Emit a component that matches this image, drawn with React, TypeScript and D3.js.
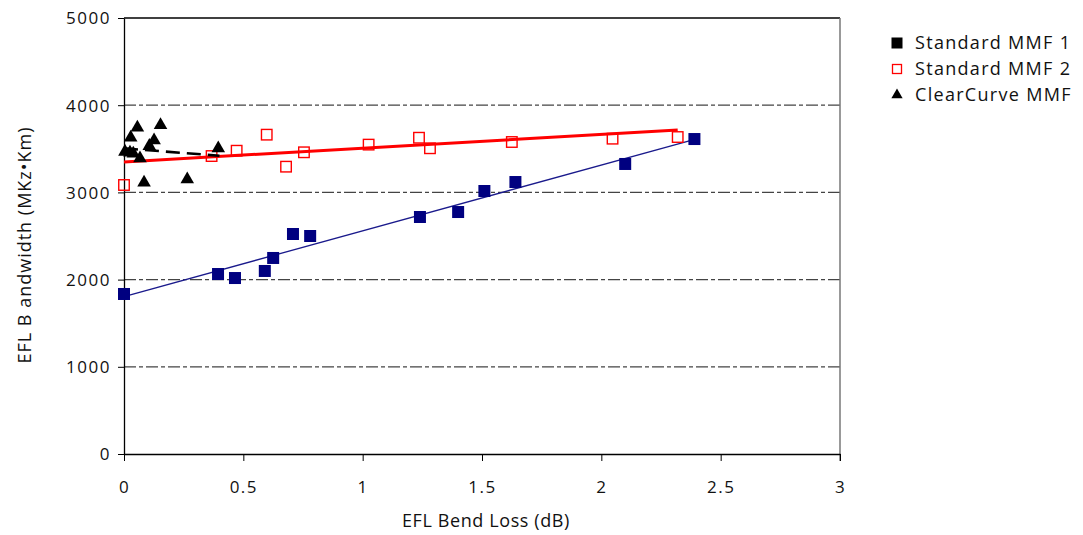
import * as d3 from "d3";
import React, { useEffect, useRef } from "react";

// Standard MMF 1 (filled navy squares)
const mmf1X = [0, 0.394, 0.465, 0.59, 0.625, 0.708, 0.78, 1.24, 1.40, 1.51, 1.64, 2.10, 2.39];
const mmf1Y = [1835, 2064, 2018, 2099, 2248, 2523, 2500, 2718, 2775, 3016, 3119, 3326, 3612];

// Standard MMF 2 (open red squares)
const mmf2X = [0, 0.367, 0.472, 0.598, 0.679, 0.754, 1.025, 1.236, 1.282, 1.625, 2.047, 2.32];
const mmf2Y = [3085, 3417, 3478, 3662, 3295, 3460, 3548, 3627, 3506, 3578, 3616, 3635];

// ClearCurve MMF (black triangles)
const ccX = [0.004, 0.025, 0.039, 0.028, 0.056, 0.067, 0.084, 0.106, 0.126, 0.153, 0.265, 0.395];
const ccY = [3478, 3467, 3456, 3639, 3754, 3403, 3123, 3544, 3609, 3784, 3162, 3517];

// trend lines: [x0, y0, x1, y1]
const mmf1Trend = [0, 1805, 2.38, 3600];
const mmf2Trend = [0, 3350, 2.32, 3715];
const ccTrend = [0, 3505, 0.4, 3420];

const xTicks = [0, 0.5, 1, 1.5, 2, 2.5, 3];
const xTickLabels = ["0", "0.5", "1", "1.5", "2", "2.5", "3"];
const yTicks = [0, 1000, 2000, 3000, 4000, 5000];
const gridValues = [1000, 2000, 3000, 4000];
const legendNames = ["Standard MMF 1", "Standard MMF 2", "ClearCurve MMF"];

const FONT = "'Open Sans', 'DejaVu Sans', sans-serif";

export default function App() {
  const ref = useRef<SVGSVGElement | null>(null);

  useEffect(() => {
    if (!ref.current) return;
    const width = 1083;
    const height = 535;
    const svg = d3.select(ref.current);
    svg.selectAll("*").remove();

    const x = d3.scaleLinear().domain([0, 3]).range([124, 840]);
    const y = d3.scaleLinear().domain([0, 5000]).range([454, 18]);

    svg.append("rect").attr("width", width).attr("height", height).attr("fill", "#fff");

    // grid lines (dash-dot)
    svg.append("g")
      .selectAll("line")
      .data(gridValues)
      .join("line")
      .attr("x1", x(0))
      .attr("x2", x(3))
      .attr("y1", d => y(d))
      .attr("y2", d => y(d))
      .attr("stroke", "#444")
      .attr("stroke-width", 1.3)
      .attr("stroke-dasharray", "12,3,4,3");

    // frame top / right
    svg.append("line")
      .attr("x1", x(0)).attr("x2", x(3))
      .attr("y1", y(5000)).attr("y2", y(5000))
      .attr("stroke", "#000").attr("stroke-width", 1.3);
    svg.append("line")
      .attr("x1", x(3)).attr("x2", x(3))
      .attr("y1", y(5000)).attr("y2", y(0) + 7)
      .attr("stroke", "#777").attr("stroke-width", 1.5);

    // x axis
    const xAxis = svg.append("g")
      .attr("transform", `translate(0,${y(0)})`)
      .call(d3.axisBottom(x).tickValues(xTicks).tickSize(7).tickSizeOuter(0)
        .tickFormat((_, i) => xTickLabels[i]));
    xAxis.select(".domain").attr("stroke", "#000").attr("stroke-width", 1.3);
    xAxis.selectAll(".tick line").attr("stroke", "#000");
    xAxis.selectAll(".tick text")
      .attr("dy", 0).attr("y", 39)
      .style("font-family", FONT).style("font-size", "17px").style("letter-spacing", "1.5px")
      .attr("fill", "#111");

    // y axis
    const yAxis = svg.append("g")
      .attr("transform", `translate(${x(0)},0)`)
      .call(d3.axisLeft(y).tickValues(yTicks).tickSize(6).tickSizeOuter(0).tickFormat(d3.format("d")));
    yAxis.select(".domain").attr("stroke", "#000").attr("stroke-width", 1.3);
    yAxis.selectAll(".tick line").attr("stroke", "#000");
    yAxis.selectAll(".tick text")
      .attr("x", -13).attr("dy", "0.35em")
      .style("font-family", FONT).style("font-size", "17px").style("letter-spacing", "1.5px")
      .attr("fill", "#111");

    // axis titles
    svg.append("text")
      .attr("x", 486).attr("y", 527)
      .attr("text-anchor", "middle")
      .style("font-family", FONT).style("font-size", "18px").style("letter-spacing", "0.6px")
      .attr("fill", "#111")
      .text("EFL Bend Loss (dB)");
    svg.append("text")
      .attr("transform", `translate(31,245) rotate(-90)`)
      .attr("text-anchor", "middle")
      .style("font-family", FONT).style("font-size", "18px").style("letter-spacing", "1px")
      .attr("fill", "#111")
      .text("EFL B andwidth (MKz\u2022Km)");

    // trend lines
    const trend = (t: number[]) => [[t[0], t[1]], [t[2], t[3]]] as [number, number][];
    const line = d3.line<[number, number]>().x(d => x(d[0])).y(d => y(d[1]));
    svg.append("path").attr("d", line(trend(mmf1Trend)))
      .attr("stroke", "#1a1a8c").attr("stroke-width", 1.3).attr("fill", "none");
    svg.append("path").attr("d", line(trend(mmf2Trend)))
      .attr("stroke", "#ff0000").attr("stroke-width", 3).attr("fill", "none");

    // points
    const sq1 = 12;
    svg.append("g").selectAll("rect")
      .data(d3.range(mmf1X.length))
      .join("rect")
      .attr("x", i => x(mmf1X[i]) - sq1 / 2)
      .attr("y", i => y(mmf1Y[i]) - sq1 / 2)
      .attr("width", sq1).attr("height", sq1)
      .attr("fill", "#000080");

    const sq2 = 10.5;
    svg.append("g").selectAll("rect")
      .data(d3.range(mmf2X.length))
      .join("rect")
      .attr("x", i => x(mmf2X[i]) - sq2 / 2)
      .attr("y", i => y(mmf2Y[i]) - sq2 / 2)
      .attr("width", sq2).attr("height", sq2)
      .attr("fill", "none").attr("stroke", "#ff0000").attr("stroke-width", 1.4);

    const tri = d3.symbol().type(d3.symbolTriangle).size(80);
    svg.append("g").selectAll("path")
      .data(d3.range(ccX.length))
      .join("path")
      .attr("d", tri())
      .attr("transform", i => `translate(${x(ccX[i])},${y(ccY[i]) + 1})`)
      .attr("fill", "#000");

    svg.append("path").attr("d", line(trend(ccTrend)))
      .attr("stroke", "#000").attr("stroke-width", 2.6).attr("fill", "none")
      .attr("stroke-dasharray", "14,7");

    // legend
    const legend = svg.append("g").attr("transform", "translate(897,43)");
    const items = legend.selectAll("g")
      .data(legendNames)
      .join("g")
      .attr("transform", (_, i) => `translate(0,${i * 26})`);
    items.each(function (_, i) {
      const g = d3.select(this);
      if (i === 0) {
        g.append("rect").attr("x", -5.5).attr("y", -5.5).attr("width", 11).attr("height", 11).attr("fill", "#000");
      } else if (i === 1) {
        g.append("rect").attr("x", -4.5).attr("y", -4.5).attr("width", 9).attr("height", 9)
          .attr("fill", "none").attr("stroke", "#ff0000").attr("stroke-width", 1.3);
      } else {
        g.append("path").attr("d", d3.symbol().type(d3.symbolTriangle).size(55)()).attr("fill", "#000");
      }
    });
    items.append("text")
      .attr("x", 18).attr("dy", "0.36em")
      .style("font-family", FONT).style("font-size", "18px").style("letter-spacing", "1.3px")
      .attr("fill", "#111")
      .text(d => d);
  }, []);

  return (
    <div style={{ position: "absolute", left: 0, top: 0 }}>
      <svg ref={ref} width={1083} height={535} style={{ display: "block" }} />
    </div>
  );
}
